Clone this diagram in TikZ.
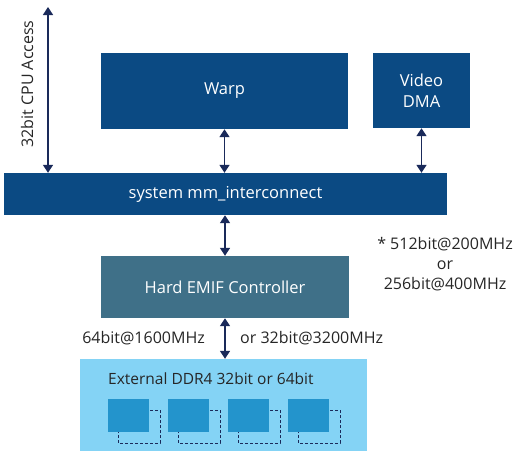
\documentclass[tikz,border=0pt]{standalone}
\usepackage{fontspec}
\setmainfont{Open Sans}
\usepackage{tikz}
\usetikzlibrary{arrows.meta,calc}

\definecolor{darkblue}{HTML}{0B4A83}
\definecolor{emifteal}{HTML}{3F7088}
\definecolor{ddrblue}{HTML}{84D3F5}
\definecolor{chipblue}{HTML}{2394CC}
\definecolor{arrownavy}{HTML}{1A2A5A}
\definecolor{txtgray}{HTML}{262626}

\tikzset{
  blk/.style={fill=darkblue, text=white, inner sep=0pt, align=center, font=\fontsize{16.5}{21}\selectfont},
  lbl/.style={text=txtgray, inner sep=0pt, font=\fontsize{16}{20}\selectfont},
  bus/.style={draw=arrownavy, line width=1.5pt, {Triangle[length=8pt,width=10pt]}-{Triangle[length=8pt,width=10pt]}}
}

\begin{document}
\begin{tikzpicture}[x=1pt,y=-1pt]
    \useasboundingbox (0,0) rectangle (521,451);
    % boxes
    \node[blk, minimum width=247, minimum height=76] (warp) at (224.5,91) {Warp};
    \node[blk, minimum width=97, minimum height=75] (dma) at (421.5,90.5) {Video\\DMA};
    \node[blk, minimum width=443, minimum height=42] (ic) at (225.5,194) {system mm\_interconnect};
    \node[blk, fill=emifteal, minimum width=248, minimum height=62] (emif) at (225,287) {Hard EMIF Controller};
    \node[fill=ddrblue, inner sep=0pt, minimum width=287, minimum height=92] (ddr) at (223.5,405) {};
    \node[lbl, font=\fontsize{15.5}{20}\selectfont, anchor=base west] (ddrtxt) at (108,384) {External DDR4 32bit or 64bit};
    % memory chips
    \foreach \i in {0,1,2,3}{
      \draw[arrownavy, line width=1pt, dash pattern=on 3pt off 2pt] (118+60*\i,410) rectangle ++(42,33);
      \node[fill=chipblue, inner sep=0pt, minimum width=41, minimum height=33, anchor=north west] (chip\i) at (108+60*\i,399) {};
    }
    % connectors
    \coordinate (cpu) at (48,7);
    \draw[bus] (cpu) -- (cpu |- ic.north);
    \draw[bus] (warp.south) -- (warp.south |- ic.north);
    \draw[bus] (dma.south) -- (dma.south |- ic.north);
    \draw[bus] (emif.north) -- (emif.north |- ic.south);
    \draw[bus] (emif.south) -- (emif.south |- ddr.north);
    % labels
    \node[lbl, rotate=90] (cpulbl) at (27,84) {32bit CPU Access};
    \node[lbl, anchor=east] (lowrate) at (205,338) {64bit@1600MHz};
    \node[lbl, anchor=west] (highrate) at (240,338) {or 32bit@3200MHz};
    \node[lbl, align=center] (avmm) at (445,264) {* 512bit@200MHz\\or\\256bit@400MHz};
\end{tikzpicture}
\end{document}
